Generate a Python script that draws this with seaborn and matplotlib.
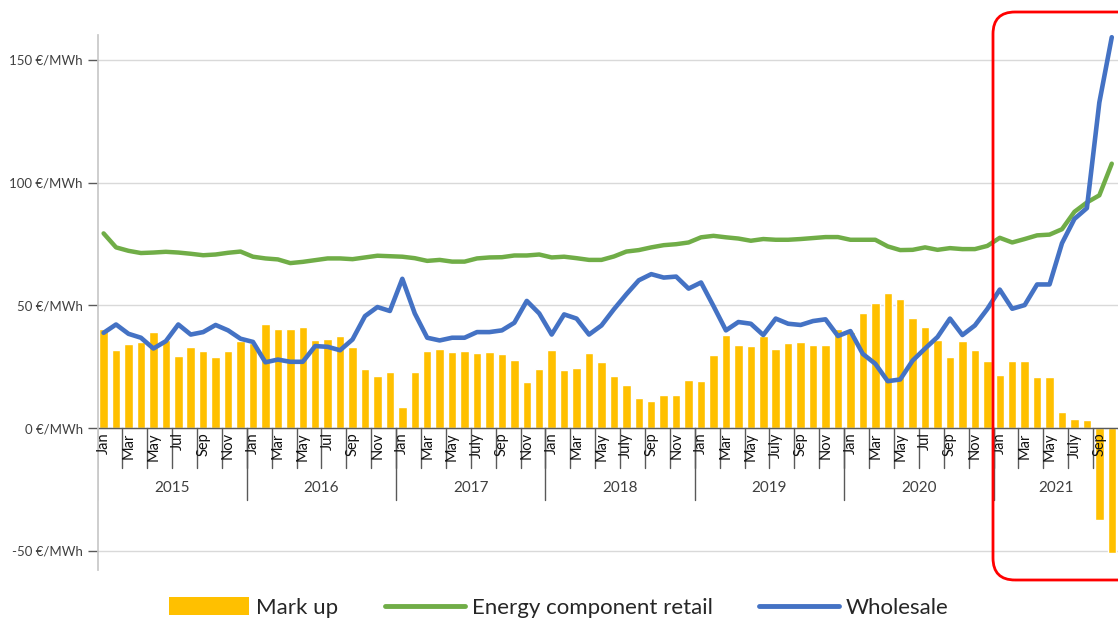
"""
Electricity prices: wholesale vs. energy component of retail, with mark up
=========================================================================
Monthly values Jan 2015 - Oct 2021, read off the reference chart.
Saves: out.png
"""

import numpy as np
import pandas as pd
import matplotlib
matplotlib.use("Agg")
import matplotlib.pyplot as plt
from matplotlib.patches import Patch, FancyBboxPatch
from matplotlib.lines import Line2D
import seaborn as sns

# ---------------------------------------------------------------------------
# DATA  (EUR/MWh)
# ---------------------------------------------------------------------------
YEARS = ["2015", "2016", "2017", "2018", "2019", "2020", "2021"]
MONTHS_PER_YEAR = [12, 12, 12, 12, 12, 12, 10]

# every other month gets a label, as in the Excel category axis
MONTH_LABELS = (
    ["Jan", "Mar", "May", "Jul", "Sep", "Nov"]
    + ["Jan", "Mar", "May", "Jul", "Sep", "Nov"]
    + ["Jan", "Mar", "May", "July", "Sep", "Nov"]
    + ["Jan", "Mar", "May", "July", "Sep", "Nov"]
    + ["Jan", "Mar", "May", "July", "Sep", "Nov"]
    + ["Jan", "Mar", "May", "Jul", "Sep", "Nov"]
    + ["Jan", "Mar", "May", "July", "Sep"]
)

mark_up = [
    40.5, 31.7, 34.3, 34.9, 39.0, 35.8, 29.3, 32.9, 31.5, 29.0, 31.5, 35.6,
    34.5, 42.2, 40.3, 40.3, 41.1, 35.7, 36.1, 37.5, 33.0, 24.1, 21.4, 22.9,
    8.7, 22.9, 31.3, 32.4, 30.8, 31.2, 30.4, 30.8, 30.0, 27.7, 18.8, 24.1,
    31.7, 23.7, 24.5, 30.4, 26.8, 21.4, 17.7, 12.3, 11.2, 13.6, 13.5, 19.5,
    19.2, 29.7, 37.9, 33.8, 33.4, 37.5, 32.4, 34.7, 35.1, 33.9, 33.7, 40.3,
    39.2, 46.7, 51.0, 54.9, 52.7, 44.7, 41.1, 35.7, 28.9, 35.3, 31.7, 27.2,
    21.6, 27.4, 27.4, 20.7, 21.0, 6.4, 3.7, 3.3, -37.5, -51.0,
]

energy_retail = [
    79.3, 73.6, 72.2, 71.3, 71.5, 71.8, 71.5, 71.0, 70.4, 70.7, 71.4, 71.9,
    69.8, 69.1, 68.7, 67.2, 67.7, 68.4, 69.1, 69.1, 68.8, 69.5, 70.2, 70.0,
    69.8, 69.2, 68.1, 68.5, 67.8, 67.8, 69.1, 69.5, 69.6, 70.3, 70.3, 70.7,
    69.5, 69.8, 69.2, 68.5, 68.5, 69.9, 71.9, 72.5, 73.6, 74.5, 74.9, 75.6,
    77.7, 78.3, 77.7, 77.2, 76.3, 77.0, 76.7, 76.7, 77.0, 77.4, 77.8, 77.8,
    76.7, 76.7, 76.7, 74.0, 72.5, 72.6, 73.6, 72.6, 73.3, 72.9, 72.9, 74.2,
    77.5, 75.6, 77.0, 78.5, 78.8, 81.0, 88.1, 91.9, 94.8, 107.7,
]

wholesale = [
    38.8, 42.2, 38.4, 36.8, 32.4, 35.4, 42.2, 38.1, 39.1, 42.0, 39.8, 36.4,
    35.1, 26.8, 27.9, 27.0, 27.0, 33.4, 33.1, 31.7, 36.1, 45.6, 49.3, 47.7,
    60.8, 46.7, 36.8, 35.7, 36.8, 36.8, 39.1, 39.1, 39.8, 42.9, 51.8, 46.7,
    38.1, 46.3, 44.6, 38.1, 41.8, 48.4, 54.5, 60.2, 62.7, 61.3, 61.7, 56.8,
    59.3, 49.7, 39.8, 43.2, 42.5, 37.9, 44.6, 42.5, 42.0, 43.6, 44.3, 37.5,
    39.5, 30.2, 26.2, 19.1, 19.8, 27.5, 32.4, 37.1, 44.6, 37.9, 41.8, 48.5,
    56.4, 48.6, 50.1, 58.5, 58.5, 75.3, 85.2, 89.6, 132.6, 159.2,
]

Y_TICKS = [-50, 0, 50, 100, 150]

# ---------------------------------------------------------------------------
# STYLE
# ---------------------------------------------------------------------------
C_BAR = "#FFC000"
C_RETAIL = "#70AD47"
C_WHOLE = "#4472C4"
C_TEXT = "#404040"
C_AXIS = "#595959"


def main():
    sns.set_theme(style="white")
    plt.rcParams["font.family"] = ["Lato", "DejaVu Sans"]

    df = pd.DataFrame({
        "idx": np.arange(len(mark_up)),
        "mark_up": mark_up,
        "retail": energy_retail,
        "wholesale": wholesale,
    })

    fig, ax = plt.subplots(figsize=(11.18, 6.24), dpi=100)
    ax.set_position([98 / 1118, 1 - 570 / 624, 1020 / 1118, 535 / 624])

    sns.barplot(data=df, x="idx", y="mark_up", native_scale=True,
                color=C_BAR, saturation=1, width=0.68, errorbar=None, ax=ax)
    sns.lineplot(data=df, x="idx", y="retail", color=C_RETAIL, lw=3.2, ax=ax)
    sns.lineplot(data=df, x="idx", y="wholesale", color=C_WHOLE, lw=3.3, ax=ax)

    ax.set_xlim(-0.45, 81.5)
    ax.set_ylim(-57.8, 160.1)
    ax.set_xlabel("")
    ax.set_ylabel("")

    # y axis: gridlines, ticks, unit labels
    ax.set_axisbelow(True)
    ax.set_yticks(Y_TICKS)
    ax.set_yticklabels([f"{v} €/MWh" for v in Y_TICKS], fontsize=9.5, color=C_TEXT)
    ax.yaxis.grid(True, color="#d9d9d9", lw=1)
    ax.tick_params(axis="y", left=True, length=7, width=1, color=C_AXIS, pad=4)
    ax.set_xticks([])
    for side in ["top", "right", "bottom"]:
        ax.spines[side].set_visible(False)
    ax.spines["left"].set_color("#c8c8c8")

    # category axis drawn at zero, Excel style (months + years)
    ax.axhline(0, color=C_AXIS, lw=1, zorder=1.5)
    month_pos = np.arange(0, len(mark_up), 2)
    for pos, lab in zip(month_pos, MONTH_LABELS):
        ax.plot([pos - 0.5, pos - 0.5], [0, -16.3], color=C_AXIS, lw=1)
        ax.annotate(lab, xy=(pos, 0), xytext=(0, -3), textcoords="offset points",
                    rotation=90, ha="center", va="top", fontsize=10.5, color="#111111",
                    zorder=5)

    start = 0
    for year, n in zip(YEARS, MONTHS_PER_YEAR):
        ax.plot([start - 0.5, start - 0.5], [0, -29.3], color=C_AXIS, lw=1)
        ax.text(start + (n - 1) / 2, -24.4, year, ha="center", va="center",
                fontsize=11, color=C_TEXT)
        start += n

    # legend at the bottom
    handles = [
        Patch(facecolor=C_BAR, edgecolor="none"),
        Line2D([], [], color=C_RETAIL, lw=3.5),
        Line2D([], [], color=C_WHOLE, lw=3.5),
    ]
    fig.legend(handles, ["Mark up", "Energy component retail", "Wholesale"],
               loc="center", bbox_to_anchor=(0.5, 0.026), ncol=3, frameon=False,
               fontsize=16, handlelength=3.6, handleheight=0.85, handletextpad=0.3,
               columnspacing=2.1, labelcolor="#262626")

    # red highlight around 2021, running off the right edge
    box = FancyBboxPatch((9.93, 0.44), 1.7, 5.68,
                         boxstyle="round,pad=0,rounding_size=0.22",
                         transform=fig.dpi_scale_trans, fill=False,
                         edgecolor="#ff0000", lw=2)
    fig.add_artist(box)

    fig.savefig("out.png", dpi=100)


if __name__ == "__main__":
    main()
